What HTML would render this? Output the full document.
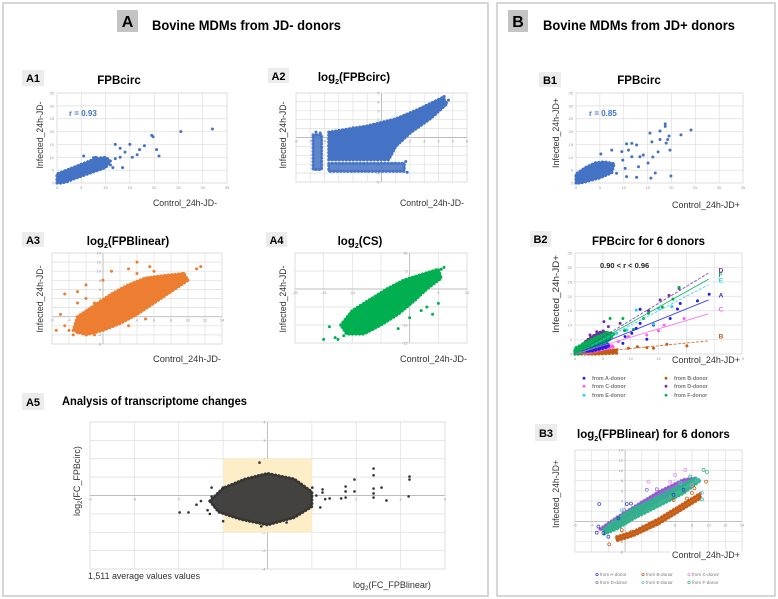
<!DOCTYPE html>
<html><head><meta charset="utf-8"><style>
html,body{margin:0;padding:0;background:#fff;}
svg{display:block;font-family:"Liberation Sans",Arial,sans-serif;}
</style></head><body>
<svg id="fig" width="778" height="599" viewBox="0 0 778 599" xmlns="http://www.w3.org/2000/svg">
<rect x="3" y="3" width="485" height="593" fill="#fff" stroke="#c8c8c8" stroke-width="1.5"/>
<rect x="497" y="3" width="278" height="593" fill="#fff" stroke="#c8c8c8" stroke-width="1.5"/>
<rect x="117" y="10" width="21" height="22" fill="#c4c4c4"/>
<text x="127.5" y="27" font-size="16" font-weight="bold" text-anchor="middle">A</text>
<text x="152" y="30" font-size="14" font-weight="bold" textLength="189" lengthAdjust="spacingAndGlyphs">Bovine MDMs from JD- donors</text>
<rect x="508" y="10" width="20" height="22" fill="#c4c4c4"/>
<text x="518" y="27" font-size="16" font-weight="bold" text-anchor="middle">B</text>
<text x="543" y="30" font-size="14" font-weight="bold" textLength="192" lengthAdjust="spacingAndGlyphs">Bovine MDMs from JD+ donors</text>

<rect x="22" y="70" width="22" height="16" fill="#ececec"/>
<text x="33" y="82" font-size="11" font-weight="bold" text-anchor="middle">A1</text>
<text x="119" y="84" font-size="11.5" font-weight="bold" text-anchor="middle">FPBcirc</text>
<rect x="268" y="68" width="21" height="15" fill="#ececec"/>
<text x="278.5" y="80" font-size="11" font-weight="bold" text-anchor="middle">A2</text>
<text x="354" y="81" font-size="11.5" font-weight="bold" text-anchor="middle">log<tspan font-size="7" dy="3">2</tspan><tspan dy="-3">(FPBcirc)</tspan></text>
<rect x="22" y="232" width="22" height="15" fill="#ececec"/>
<text x="33" y="244" font-size="11" font-weight="bold" text-anchor="middle">A3</text>
<text x="128" y="245" font-size="11.5" font-weight="bold" text-anchor="middle">log<tspan font-size="7" dy="3">2</tspan><tspan dy="-3">(FPBlinear)</tspan></text>
<rect x="266" y="232" width="21" height="15" fill="#ececec"/>
<text x="276.5" y="244" font-size="11" font-weight="bold" text-anchor="middle">A4</text>
<text x="360" y="245" font-size="11.5" font-weight="bold" text-anchor="middle">log<tspan font-size="7" dy="3">2</tspan><tspan dy="-3">(CS)</tspan></text>
<rect x="22" y="393" width="22" height="17" fill="#ececec"/>
<text x="33" y="406" font-size="11" font-weight="bold" text-anchor="middle">A5</text>
<text x="62" y="405" font-size="11.5" font-weight="bold" textLength="185" lengthAdjust="spacingAndGlyphs">Analysis of transcriptome changes</text>
<rect x="539" y="72" width="22" height="15" fill="#ececec"/>
<text x="550" y="84" font-size="11" font-weight="bold" text-anchor="middle">B1</text>
<text x="639" y="84" font-size="11.5" font-weight="bold" text-anchor="middle">FPBcirc</text>
<rect x="530" y="231" width="21" height="16" fill="#ececec"/>
<text x="540.5" y="243" font-size="11" font-weight="bold" text-anchor="middle">B2</text>
<text x="592" y="245" font-size="11.5" font-weight="bold" textLength="113" lengthAdjust="spacingAndGlyphs">FPBcirc  for 6 donors</text>
<rect x="535" y="424" width="22" height="17" fill="#ececec"/>
<text x="546" y="437" font-size="11" font-weight="bold" text-anchor="middle">B3</text>
<text x="577" y="438" font-size="11.5" font-weight="bold">log<tspan font-size="7" dy="3">2</tspan><tspan dy="-3">(FPBlinear)  for 6 donors</tspan></text>
</svg>
<script>
// ---------- data ----------
const a1TicksX=[0,5,10,15,20,25,30,35];
const a1TicksY=[0,5,10,15,20,25,30,35];
const a1Cloud=[[0,0],[0,3.5],[2,5],[4,6.5],[6,8],[8,9.5],[10,10],[11,8.5],[10,6],[7,4],[4,2],[2,0.5],[1,0]];
const a1Points=[[5.5,10.5],[7.5,9.8],[8,10],[10,8],[11,7],[12,15],[13,13.5],[13,10],[14,12],[15,15],[15.5,10],[16.5,11],[17,13],[18,14.5],[19.5,18.5],[19.8,18],[20.5,13],[21,10.5],[25.5,20],[32,21],[12,9.5],[11.5,6],[13.5,6],[9,8.5]];

const a2TicksX=[-6,-5,-4,-3,-2,-1,0,1,2,3,4,5,6];
const a2TicksY=[-5,-4,-3,-2,-1,0,1,2,3,4,5];
const a2Cloud=[[-3.7,0.6],[-1,1.3],[1,2.1],[2.5,3.1],[4.3,4.5],[4.6,3.8],[3.5,2.2],[2,0.5],[1,-1],[0.5,-2.5],[-3.7,-2.5]];
const a2Band=[[-3.7,-2.9],[1.6,-2.9],[1.6,-3.8],[-3.7,-3.8]];
const a2Stripe=[[-4.8,0.3],[-4.2,0.3],[-4.2,-3.6],[-4.8,-3.6]];
const a2Points=[[-4.6,0.6],[-4.3,0.5],[4.7,4.2],[4.4,4.6],[1.8,-3.9],[1.7,-2.7],[-2,1.1],[3.9,3.9]];

const a3Ticks=[-6,-4,-2,0,2,4,6,8,10,12,14];
const a3Cloud=[[-3.5,-3],[-3,0],[-1,2.5],[1,5],[3,7],[5,8.5],[7,9],[9.5,9.5],[10,8],[8,5.5],[6,3],[4,0.5],[2,-1.5],[0,-3],[-2,-4]];
const a3Points=[[-4,-3],[-3,-3.5],[-4.5,-2],[-5,0.5],[-4.5,5],[-3,5.5],[-2,4],[-2,7],[-3,3],[-1,3],[0,8],[1,10],[3,10.5],[4,9.5],[5.5,11],[6,10],[4,12],[11.5,11],[11,10.5],[9.5,9.5],[10,8],[8,7.5],[-1,-4],[-2,-3],[3,-2],[5,-0.5],[-3.5,-4],[-5.5,-3]];

const a4TicksX=[-20,-15,-10,-5,0,5,10];
const a4TicksY=[-15,-10,-5,0,5,10];
const a4Cloud=[[-12,-10],[-10,-6],[-7,-3],[-4,0],[-1,2.5],[2,4],[5,5.5],[5.5,3],[3,0],[1,-3],[-2,-7],[-5,-10],[-8,-12.5],[-11,-12.5]];
const a4Points=[[-15,-14],[-13,-13.5],[-12.5,-14],[-14,-10.5],[-11.5,-13],[3,-5],[5,-4],[2,-6],[4,-7],[6,6],[5.5,5.5],[-2,-11],[0,-8]];

const a5Ticks=[-4,-3,-2,-1,0,1,2,3,4];
const a5Box=[[-1,2],[1,-2]];
const a5Cloud=[[-1.3,-0.3],[-1,0.4],[-0.5,0.9],[0,1.2],[0.6,0.9],[1,0.2],[1,-0.6],[0.6,-1.2],[0,-1.6],[-0.6,-1.3],[-1.1,-0.9]];
const a5Points=[[-1.98,-0.92],[-1.78,-0.92],[-1.3,-1.0],[-1.35,-0.8],[-1.26,0.43],[-1.26,-0.05],[-1.0,0.43],[-1.0,-1.4],[-0.18,1.79],[0.43,-1.47],[-0.14,-1.68],[1.96,0.87],[1.96,0.22],[1.76,0.49],[1.76,0.22],[1.76,-0.11],[1.66,-0.16],[2.39,1.47],[2.39,1.1],[2.39,0.38],[2.39,0.11],[2.39,-0.11],[2.57,0.43],[2.68,-0.27],[3.2,1.03],[3.2,0.87],[3.18,-0.05],[1.4,-0.16],[1.3,-0.2],[1.24,0.33],[1.24,0.16],[1.19,-0.65],[1.1,0],[1.01,0.43],[-1.5,-0.3],[-1.6,-0.5]];

const b1Cloud=[[0,0],[0,3.5],[2,6],[4,7.8],[6,8.2],[8,7.5],[7.5,4],[5,2],[3,1],[1,0]];
const b1Points=[[24.1,20.6],[22,18.7],[18.7,23],[18.7,22],[17.6,20.2],[19.5,18.3],[15.5,19.4],[17.6,16.9],[19.2,16.9],[18.9,15.5],[15.9,16],[19.7,12.8],[17.2,12.1],[16.1,10.1],[15.1,7.8],[15.7,1.9],[16.6,3.9],[19.9,2.7],[13.1,6.3],[13.4,10.2],[14.1,10.9],[11.7,15.4],[10.6,15.2],[12.7,14.8],[11.7,10.2],[11,12.8],[9.6,12.2],[9.8,8.9],[10.3,5.7],[10.6,2.5],[12.7,2.2],[8.5,3.8],[5.2,11.3],[7.5,12.8]];

const b2TicksX=[0,5,10,15,20,25,30];
const b2TicksY=[0,5,10,15,20,25,30,35];
const donorNames=['A','B','C','D','E','F'];
const donorColors=['#1f1fe6','#c55a11','#ff5cf0','#7030a0','#22d0f0','#00b050'];
const b2Slopes=[0.78,0.19,0.58,1.17,1.0,1.08];
const b2PtsA=[[24.1,20.7],[22,18.4],[18.9,17.5],[18.4,15.6],[17.1,12.3],[11.7,15.5],[14.1,10],[11.7,10.6],[11,8.9],[10.2,7.2],[9,6],[8.6,3.7],[12.9,5.1]];
const b2PtsB=[[20.1,2.8],[16.5,3.4],[12.9,2.2],[11.2,2.5],[9.6,2],[7.2,1.4],[5.7,0.5],[14.1,2]];
const b2PtsC=[[19.6,12.3],[16,10],[15,8],[12.9,6.6],[9.6,6],[7.8,4.3]];
const b2PtsD=[[15.3,18.7],[16.9,20.3],[18.7,22.7],[13.2,15],[8.1,10.6],[5.2,11.2],[6,9.5],[2.7,6.6],[3.9,7.7]];
const b2PtsE=[[11,15.2],[15,15.8],[17.4,16.4],[14.1,10.3],[7.5,7.2],[9.3,8.3]];
const b2PtsF=[[18.7,23.1],[17.6,19],[15.7,16.2],[13.2,14.1],[12.3,12.3],[8.6,12.3],[8.9,8.1],[10.5,8.5],[6.3,12.3]];
const b2CloudA=[[1,0.5],[4,2.5],[6,3.6],[6,2.5],[3,1]];
const b2CloudB=[[0,0],[2,0.7],[5,1.2],[7.5,1.4],[7.5,0.3],[4,0]];
const b2CloudC=[[0,0],[3,1.8],[6,3.2],[7,2.6],[4,1],[1,0]];
const b2CloudD=[[0,1],[2,4.5],[3,6],[5,8],[6,7],[4,5],[2,2.5]];
const b2CloudE=[[0,0.5],[3,3.5],[5,5.5],[5.5,4.5],[3,2.5],[0,0]];
const b2CloudF=[[0,0],[0,2],[2,4],[4,6],[6,7.5],[7,7],[6,4.5],[4,3],[2,1.5],[1,0]];

const b3Ticks=[-6,-4,-2,0,2,4,6,8,10,12,14];
const b3PtsA=[[-3.1,3.4],[-3.2,-1],[-3.4,-2.2],[-2.6,-2.3],[-2,-3],[-0.8,0.6],[0.2,3.4],[0.7,3.5],[5.8,5.2],[7,6.2]];
const b3PtsB=[[-1.9,-4.5],[-0.4,-1.7],[0.8,-2],[5.8,4.2],[7.4,4.5],[8.3,6.5],[9.7,7.8],[8,5.6]];
const b3PtsC=[[2.8,7.8],[6,9.1],[7.2,10.1],[8,7.1],[5.4,7.8]];
const b3PtsD=[[2.6,6.2],[3.8,6.3],[-0.1,2.2],[5,4.8]];
const b3PtsE=[[9.2,5.6],[8.6,8.1],[-0.4,2.2],[6.6,7.5]];
const b3PtsF=[[9.2,4.3],[9.4,10.1],[9.8,9.7],[-0.4,0.9],[7.8,8.8]];
const b3CloudB=[[-1,-3],[1,-2],[4,0.5],[7,3.5],[9,5.5],[9,4.5],[7,2.5],[4,-0.5],[1,-2.8],[-1,-3.8]];
const b3CloudD=[[-3,-1.5],[-1,0.8],[2,3.8],[4,5.8],[7,8.2],[8.5,8.5],[7,7],[4,4],[1,1],[-2,-2]];
const b3CloudF=[[-2.5,-1.5],[-1,0.5],[1,2.5],[3,4],[6,6.5],[8.5,8.5],[9,8],[7,5.5],[4,3],[1,0.5],[-1,-1.5],[-2.5,-2.5]];

// ---------- drawing ----------
const NS='http://www.w3.org/2000/svg';
const svg=document.getElementById('fig');
function mk(tag,attrs,parent){const e=document.createElementNS(NS,tag);for(const k in attrs)e.setAttribute(k,attrs[k]);parent.appendChild(e);return e;}

function chart(c){
  const g=mk('g',{},svg);
  
  
  const sx=v=>c.px0+(v-c.xd[0])/(c.xd[1]-c.xd[0])*(c.px1-c.px0);
  const sy=v=>c.py1-(v-c.yd[0])/(c.yd[1]-c.yd[0])*(c.py1-c.py0);
  const bg=mk('rect',{x:c.px0,y:c.py0,width:c.px1-c.px0,height:c.py1-c.py0,fill:'#fff',stroke:'#d9d9d9','stroke-width':0.8},g);
  
  
  c.tx.forEach(t=>{const l=mk('line',{x1:sx(t),x2:sx(t),y1:c.py0,y2:c.py1,stroke:'#dedede','stroke-width':0.7},g);
    
    });
  c.ty.forEach(t=>{const l=mk('line',{x1:c.px0,x2:c.px1,y1:sy(t),y2:sy(t),stroke:'#dedede','stroke-width':0.7},g);
    
    });
  if(c.cross){
    const ax=mk('line',{x1:c.px0,x2:c.px1,y1:sy(0),y2:sy(0),stroke:'#bdbdbd','stroke-width':0.9},g);
    
    
    const ay=mk('line',{x1:sx(0),x2:sx(0),y1:c.py0,y2:c.py1,stroke:'#bdbdbd','stroke-width':0.9},g);
    
    
  }
  c.tx.forEach(t=>{if(c.cross&&t===0)return;const tt=mk('text',{x:sx(t),y:c.cross?sy(0)+5:c.py1+6,'font-size':4,fill:'#9a9a9a','text-anchor':'middle'},g);tt.textContent=t;
    
    });
  c.ty.forEach(t=>{if(c.cross&&t===0)return;const tt=mk('text',{x:c.cross?sx(0)-2:c.px0-3,y:sy(t)+1.5,'font-size':4,fill:'#9a9a9a','text-anchor':'end'},g);tt.textContent=t;
    
    });
  return {g,sx,sy};
}
function cloud(ch,pts,color,op){
  const ptsStr=pts.map(q=>ch.sx(q[0])+','+ch.sy(q[1])).join(' ');
  const p=mk('polygon',{points:ptsStr,fill:color,'fill-opacity':op||1,stroke:color,'stroke-width':1.5,'stroke-linejoin':'round','stroke-opacity':op||1},ch.g);
  
  
  const e=mk('polygon',{points:ptsStr,fill:'none',stroke:color,'stroke-width':3.2,'stroke-linecap':'round','stroke-dasharray':'0.1,3.4','stroke-opacity':op||1},ch.g);
  
  
}
function dots(ch,pts,color,r,hollow){
  pts.forEach(q=>{const d=mk('circle',{cx:ch.sx(q[0]),cy:ch.sy(q[1]),r:r,fill:hollow?'none':color,stroke:color,'stroke-width':hollow?0.7:0},ch.g);
    
    });
}
function label(txt,x,y,opts){
  const t=mk('text',{x:x,y:y,'font-size':opts.size||9,fill:opts.fill||'#333','text-anchor':opts.anchor||'start'},svg);
  if(opts.rot)t.setAttribute('transform','rotate(-90 '+x+' '+y+')');
  if(opts.bold)t.setAttribute('font-weight','bold');
  if(opts.len){t.setAttribute('textLength',opts.len);t.setAttribute('lengthAdjust','spacingAndGlyphs');}
  t.innerHTML=txt;
  return t;
}
const BLUE='#4472c4';
// A1
let ch=chart({name:'a1-chart',px0:57,px1:227,py0:93,py1:183,xd:[0,35],yd:[0,35],tx:a1TicksX,ty:a1TicksY});
cloud(ch,a1Cloud,BLUE);dots(ch,a1Points,BLUE,1.5);
// A2
ch=chart({name:'a2-chart',px0:296,px1:467,py0:93,py1:182,xd:[-6,6],yd:[-5,5],tx:a2TicksX,ty:a2TicksY,cross:true});
cloud(ch,a2Cloud,BLUE);cloud(ch,a2Band,BLUE,0.85);cloud(ch,a2Stripe,BLUE,0.85);dots(ch,a2Points,BLUE,1.5);
// A3
const OR='#ed7d31';
ch=chart({name:'a3-chart',px0:52,px1:222,py0:253,py1:344,xd:[-6,14],yd:[-6,14],tx:a3Ticks,ty:a3Ticks,cross:true});
cloud(ch,a3Cloud,OR);dots(ch,a3Points,OR,1.5);
// A4
const GR='#00b050';
ch=chart({name:'a4-chart',px0:295,px1:467,py0:253,py1:343,xd:[-20,10],yd:[-15,10],tx:a4TicksX,ty:a4TicksY,cross:true});
cloud(ch,a4Cloud,GR);dots(ch,a4Points,GR,1.5);
// A5
ch=chart({name:'a5-chart',px0:90,px1:445,py0:422,py1:569,xd:[-4,4],yd:[-4,4],tx:a5Ticks,ty:a5Ticks,cross:true});
{const r=mk('rect',{x:ch.sx(a5Box[0][0]),y:ch.sy(a5Box[0][1]),width:ch.sx(a5Box[1][0])-ch.sx(a5Box[0][0]),height:ch.sy(a5Box[1][1])-ch.sy(a5Box[0][1]),fill:'#fdeec8'},ch.g);
 
 }
cloud(ch,a5Cloud,'#333',0.92);dots(ch,a5Points,'#333',1.3);
// B1
ch=chart({name:'b1-chart',px0:576,px1:743,py0:93,py1:183,xd:[0,35],yd:[0,35],tx:a1TicksX,ty:a1TicksY});
cloud(ch,b1Cloud,BLUE);dots(ch,b1Points,BLUE,1.5);
// B2
ch=chart({name:'b2-chart',px0:575,px1:742,py0:253,py1:354,xd:[0,30],yd:[0,35],tx:b2TicksX,ty:b2TicksY});
const b2Clouds=[b2CloudA,b2CloudB,b2CloudC,b2CloudD,b2CloudE,b2CloudF];
const b2Pts=[b2PtsA,b2PtsB,b2PtsC,b2PtsD,b2PtsE,b2PtsF];
[1,2,0,4,3,5].forEach(i=>cloud(ch,b2Clouds[i],donorColors[i]));
[1,2,0,4,3,5].forEach(i=>dots(ch,b2Pts[i],donorColors[i],1.5));
const dashed=[false,true,false,true,true,false];
b2Slopes.forEach((s,i)=>{
  const l=mk('line',{x1:ch.sx(0),y1:ch.sy(0),x2:ch.sx(24),y2:ch.sy(24*s),stroke:donorColors[i],'stroke-width':0.9,'stroke-dasharray':dashed[i]?'3,1.5':'none','stroke-opacity':0.85},ch.g);
  
  
  const t=mk('text',{x:ch.sx(25.8),y:ch.sy(Math.min(24*s+1.5,29))+2,'font-size':6.5,'font-weight':'bold',fill:donorColors[i]},ch.g);
  t.textContent=donorNames[i];
  
  
});
// B3
ch=chart({name:'b3-chart',px0:575,px1:742,py0:450,py1:552,xd:[-6,14],yd:[-6,14],tx:b3Ticks,ty:b3Ticks,cross:true});
cloud(ch,b3CloudB,'#c55a11',0.9);cloud(ch,b3CloudD,'#8e5bd0',0.9);cloud(ch,b3CloudF,'#2fb38a',0.92);
const b3Colors=['#3333cc','#c55a11','#ee82ee','#9966cc','#5bc0de','#2fb38a'];
[b3PtsA,b3PtsB,b3PtsC,b3PtsD,b3PtsE,b3PtsF].forEach((p,i)=>dots(ch,p,b3Colors[i],1.5,true));

// axis titles
let t;
t=label('Infected_24h-JD-',43,135,{rot:1,anchor:'middle',len:67});
t=label('Control_24h-JD-',153,206,{len:64});
t=label('Infected_24h-JD-',286,135,{rot:1,anchor:'middle',len:67});
t=label('Control_24h-JD-',400,206,{len:64});
t=label('Infected_24h-JD-',43,299,{rot:1,anchor:'middle',len:67});
t=label('Control_24h-JD-',153,362,{len:68});
t=label('Infected_24h-JD-',286,299,{rot:1,anchor:'middle',len:67});
t=label('Control_24h-JD-',400,362,{len:67});
t=label('log<tspan font-size="6" dy="2">2</tspan><tspan dy="-2">(FC_FPBcirc)</tspan>',80,481,{rot:1,anchor:'middle'});
t=label('1,511 average values values',88,579,{len:112});
t=label('log<tspan font-size="6" dy="2">2</tspan><tspan dy="-2">(FC_FPBlinear)</tspan>',353,588,{});
t=label('Infected_24h-JD+',559,133,{rot:1,anchor:'middle',len:70});
t=label('Control_24h-JD+',672,208,{len:68});
t=label('Infected_24h-JD+',559,294,{rot:1,anchor:'middle',len:78});
{const r=mk('rect',{x:670,y:354.5,width:72,height:11,fill:'#fff'},svg);}
t=label('Control_24h-JD+',672,363,{len:68});
t=label('Infected_24h-JD+',559,494,{rot:1,anchor:'middle',len:68});
{const r=mk('rect',{x:670,y:550,width:72,height:11,fill:'#fff'},svg);}
t=label('Control_24h-JD+',672,558,{len:68});
t=label('r = 0.93',69,116,{size:8,bold:1,fill:'#4472c4'});
t=label('r = 0.85',589,116,{size:8,bold:1,fill:'#4472c4'});
t=label('0.90 &lt; r &lt; 0.96',600,268,{size:7.5,bold:1,fill:'#222'});

// legends
const legB2x=[584,666], legB2y=[380,388,397];
donorNames.forEach((n,i)=>{
  const x=legB2x[i%2], y=legB2y[Math.floor(i/2)];
  const d=mk('circle',{cx:x,cy:y-1.8,r:1.4,fill:donorColors[i]},svg);
  
  
  const tt=mk('text',{x:x+8,y:y,'font-size':5.3,'font-weight':'bold',fill:'#777'},svg);
  tt.textContent='from '+n+'-donor';
  
  
});
const legB3x=[597,643,689], legB3y=[576,584];
donorNames.forEach((n,i)=>{
  const x=legB3x[i%3], y=legB3y[Math.floor(i/3)];
  const d=mk('circle',{cx:x,cy:y-1.5,r:1.2,fill:'none',stroke:b3Colors[i],'stroke-width':0.7},svg);
  
  
  const tt=mk('text',{x:x+3,y:y,'font-size':4.6,fill:'#777'},svg);
  tt.textContent='from '+n+'-donor';
  
  
});
</script>
</body></html>
